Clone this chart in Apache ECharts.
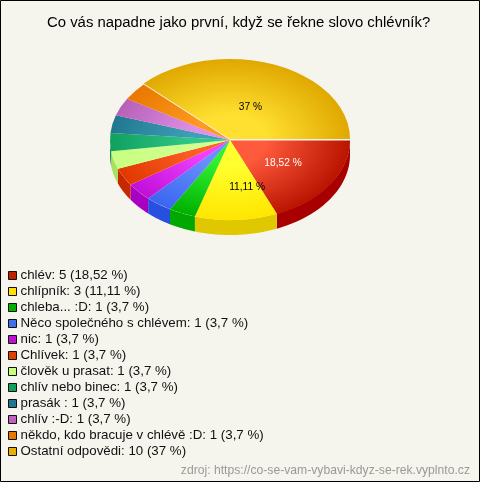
<!DOCTYPE html>
<html><head><meta charset="utf-8">
<style>html,body{margin:0;padding:0;background:#f5f5ee}#c{width:480px;height:482px}</style>
<script src="https://cdn.jsdelivr.net/npm/echarts@6/dist/echarts.min.js"></script>
</head><body><div id="c"></div>
<script>
const titleText = 'Co vás napadne jako první, když se řekne slovo chlévník?';
const sourceText = 'zdroj: https://co-se-vam-vybavi-kdyz-se-rek.vyplnto.cz';
const categories = ['chlév','chlípník','chleba... :D','Něco společného s chlévem','nic','Chlívek','člověk u prasat','chlív nebo binec','prasák ','chlív :-D','někdo, kdo bracuje v chlévě :D','Ostatní odpovědi'];
const counts = [5,3,1,1,1,1,1,1,1,1,1,10];
const percentLabels = ['18,52','11,11','3,7','3,7','3,7','3,7','3,7','3,7','3,7','3,7','3,7','37'];
const legendColors = ['#c02000','#ffe000','#00b000','#4070f0','#c010d0','#e04000','#c8ff80','#10a060','#207890','#c060c0','#e87800','#e8b000'];
const innerColors = ['#ff5a3c','#ffff30','#30f030','#6a90ff','#f040ff','#ff6028','#d0ff90','#30c888','#40a0b8','#e090e8','#ff9a20','#ffe030'];
const outerColors = ['#b81400','#ffe600','#00b000','#3a66f0','#c010d8','#e03800','#c8ff80','#10a060','#207890','#b860b8','#e87800','#e0a800'];
const sideColors = ['#a80000','#e0c800','#00a800','#2850e0','#a800c0','#c82800','#a8e060','#108858','#186878','#a050a0','#c86000','#c09000'];
const labelColors = {0:'#ffffff',1:'#000000',11:'#000000'};
const labelNudge = {0:[3,1],1:[14,7],11:[-2,4]};

const CX=230, CY=140, RX=120, RY=80, DEPTH=15;
const total = counts.reduce((a,b)=>a+b,0);
const rad = d => d*Math.PI/180;
const last = counts.length-1;
// the reference draws each slice in whole degrees; the final slice closes the circle
let run = 0;
const startDeg = counts.map(v => { const s = run; run += Math.round(v/total*360); return s; });

function render(i){
  return function(params, api){
    const value = api.value(0);
    const a0 = startDeg[i], a1 = i===last ? 360 : a0 + Math.round(value/total*360);
    const lift = i===last ? -1 : (i===0 ? 0.5 : 0);
    const children = [];
    const lo = Math.max(a0,0), hi = Math.min(a1,180);
    if (hi > lo){
      const top=[], bottom=[];
      for(let k=0;k<=24;k++){
        const t = rad(lo+(hi-lo)*k/24);
        const x = CX+RX*Math.cos(t), y = CY+RY*Math.sin(t);
        top.push([x,y]); bottom.unshift([x,y+DEPTH]);
      }
      children.push({type:'polygon',shape:{points:top.concat(bottom)},style:{fill:sideColors[i]},silent:true});
    }
    children.push({type:'sector',x:CX,y:CY+lift,scaleX:1,scaleY:RY/RX,
      shape:{cx:0,cy:0,r0:0,r:RX,startAngle:rad(a0),endAngle:rad(a1),clockwise:true},
      style:{fill:{type:'radial',x:0,y:0,r:RX,global:true,colorStops:[{offset:0,color:innerColors[i]},{offset:0.3,color:innerColors[i]},{offset:1,color:outerColors[i]}]}},silent:true});
    if (labelColors[i]){
      const mid = rad((a0+a1)/2), n = labelNudge[i];
      children.push({type:'text',z2:50,silent:true,
        x:CX+RX*0.5*Math.cos(mid)+n[0], y:CY+RY*0.5*Math.sin(mid)+n[1],
        style:{text:percentLabels[i]+' %',fill:labelColors[i],font:'10.2px "Liberation Sans"',align:'center',verticalAlign:'middle'}});
    }
    return {type:'group',children};
  };
}

const chart = echarts.init(document.getElementById('c'),null,{renderer:'canvas'});
chart.setOption({
  animation:false,
  backgroundColor:'#f5f5ee',
  title:{text:titleText,left:47,top:15,padding:0,textStyle:{color:'#000',fontFamily:'Liberation Sans',fontSize:14.9,fontWeight:'normal'}},
  legend:{orient:'vertical',left:8,top:269,padding:0,itemWidth:8,itemHeight:8,itemGap:3,selectedMode:false,icon:'rect',
    itemStyle:{borderColor:'#111',borderWidth:1},
    textStyle:{color:'#111',fontFamily:'Liberation Sans',fontSize:13.3,lineHeight:13,height:13,padding:[0,0,0,-1]},
    formatter:n=>{const i=categories.indexOf(n);return `${n}: ${counts[i]} (${percentLabels[i]} %)`;},
    data:categories},
  graphic:[
    {type:'rect',silent:true,shape:{x:.5,y:.5,width:479,height:481},style:{fill:'none',stroke:'#000',lineWidth:1},z:100},
    {type:'text',silent:true,right:10,top:465,style:{text:sourceText,fill:'#999',font:'12.17px "Liberation Sans"'}}
  ],
  series:categories.map((name,i)=>({type:'custom',name,coordinateSystem:'none',silent:true,
    itemStyle:{color:legendColors[i]},data:[[counts[i]]],renderItem:render(i)}))
});
</script></body></html>
